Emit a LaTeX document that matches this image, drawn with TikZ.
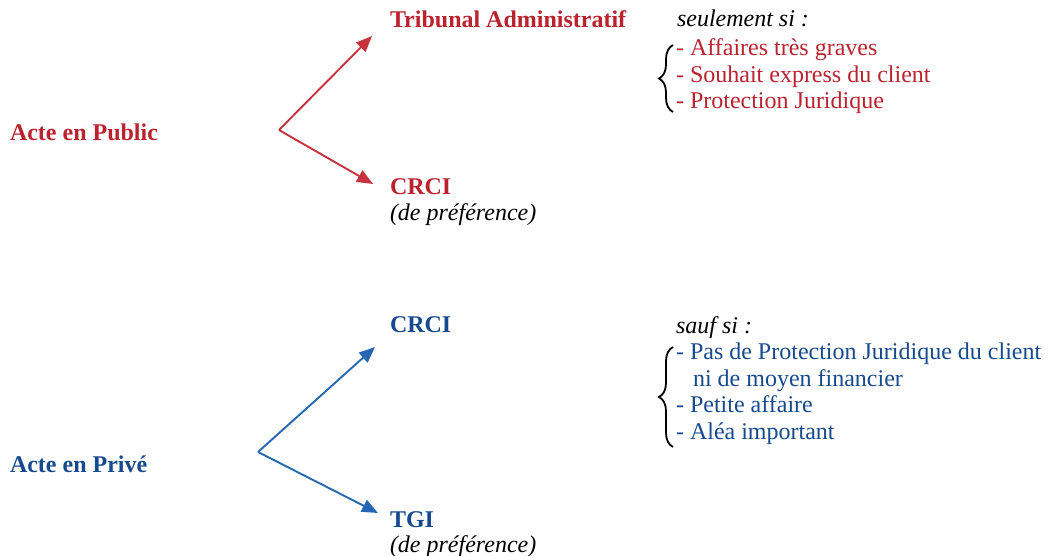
\documentclass[tikz,border=0pt]{standalone}
\usepackage{fontspec}
\setmainfont{Liberation Serif}
\usetikzlibrary{arrows.meta, positioning, decorations.pathreplacing}

\definecolor{actered}{RGB}{186,34,46}
\definecolor{arrowred}{RGB}{198,50,62}
\definecolor{acteblue}{RGB}{22,74,142}
\definecolor{arrowblue}{RGB}{36,104,180}

\begin{document}
\begin{tikzpicture}[
    x=1pt, y=-1pt,
    font=\fontsize{24}{28}\selectfont,
    every node/.style={inner sep=0pt, outer sep=0pt, anchor=base west},
    pubtitle/.style={text=actered, font=\fontsize{24}{28}\selectfont\bfseries},
    privtitle/.style={text=acteblue, font=\fontsize{24}{28}\selectfont\bfseries},
    note/.style={text=black, font=\fontsize{24}{28}\selectfont\itshape},
    publine/.style={text=actered},
    privline/.style={text=acteblue},
    pubarrow/.style={-{Triangle[length=16pt, width=13pt]}, line width=1.9pt, draw=arrowred, fill=arrowred},
    privarrow/.style={-{Triangle[length=16pt, width=13pt]}, line width=1.9pt, draw=arrowblue, fill=arrowblue},
    bracket/.style={decorate, decoration={brace, amplitude=14pt}, line width=1.8pt, draw=black}
]
\useasboundingbox (0,0) rectangle (1048,556);

% Acte en Public
\node[pubtitle] (pub) at (10,141) {Acte en Public};
\node[pubtitle] (trib) at (390,28) {Tribunal Administratif};
\node[pubtitle] (pubcrci) at (390,194) {CRCI};
\node[note] (pubpref) at (390,220) {(de préférence)};

\node[note] (pubcond) at (677,27) {seulement si :};
\node[publine] (pubA) at (676,56) {- Affaires très graves};
\node[publine] (pubB) at (676,83) {- Souhait express du client};
\node[publine] (pubC) at (676,109) {- Protection Juridique};

% Acte en Prive
\node[privtitle] (priv) at (10,472) {Acte en Privé};
\node[privtitle] (privcrci) at (390,332) {CRCI};
\node[privtitle] (tgi) at (390,527) {TGI};
\node[note] (privpref) at (390,552) {(de préférence)};

\node[note] (privcond) at (676,333) {sauf si :};
\node[privline] (privA) at (676,359) {- Pas de Protection Juridique du client};
\node[privline] (privB) at (693,386) {ni de moyen financier};
\node[privline] (privC) at (676,412) {- Petite affaire};
\node[privline] (privD) at (676,439) {- Aléa important};

% Fork points and arrow tips
\coordinate (pubfork) at (279,130);
\coordinate (tribtip) at ([shift={(-18,8)}]trib.base west);
\coordinate (pubcrcitip) at ([shift={(-17,-10)}]pubcrci.base west);
\coordinate (privfork) at (258,452);
\coordinate (privcrcitip) at ([shift={(-15,15)}]privcrci.base west);
\coordinate (tgitip) at ([shift={(-12,-14)}]tgi.base west);

\draw[pubarrow] (pubfork) -- (tribtip);
\draw[pubarrow] (pubfork) -- (pubcrcitip);
\draw[privarrow] (privfork) -- (privcrcitip);
\draw[privarrow] (privfork) -- (tgitip);

% Braces
\draw[bracket] ([shift={(-3,3)}]pubC.base west) -- ([shift={(-3,-11)}]pubA.base west);
\draw[bracket] ([shift={(-3,8)}]privD.base west) -- ([shift={(-3,-12)}]privA.base west);

\end{tikzpicture}
\end{document}
